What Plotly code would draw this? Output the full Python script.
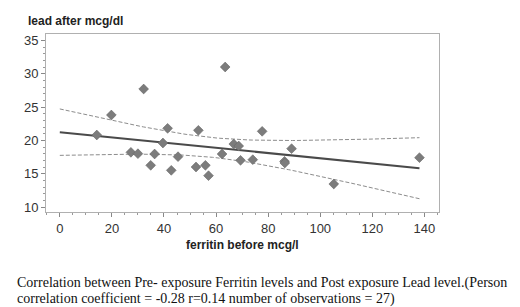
import numpy as np
import plotly.graph_objects as go

# Data
ferritin = [14.2, 19.8, 32.2, 27.3, 30.0, 34.9, 36.4, 39.6, 41.4, 42.8, 45.4, 52.3, 53.2, 55.9,
            57.1, 62.3, 63.5, 66.8, 68.7, 69.4, 74.1, 77.7, 89.0, 86.3, 86.4, 105.2, 138.1]
lead = [20.8, 23.8, 27.7, 18.2, 18.0, 16.25, 17.95, 19.6, 21.8, 15.5, 17.55, 16.0, 21.5, 16.25,
        14.7, 17.95, 31.0, 19.45, 19.15, 17.0, 17.1, 21.35, 18.75, 16.85, 16.6, 13.45, 17.4]
x_ticks = [0, 20, 40, 60, 80, 100, 120, 140]
y_ticks = [10, 15, 20, 25, 30, 35]
caption_lines = [
    "Correlation between Pre- exposure Ferritin levels and Post exposure Lead level.(Person",
    "correlation coefficient = -0.28 r=0.14 number of observations = 27)",
]
T_CRIT = 2.0595  # t(0.975, df=25)

x = np.array(ferritin)
y = np.array(lead)
n = len(x)
b1, b0 = np.polyfit(x, y, 1)
resid = y - (b0 + b1 * x)
s = np.sqrt(np.sum(resid ** 2) / (n - 2))
sxx = np.sum((x - x.mean()) ** 2)
xf = np.linspace(0, x.max(), 100)
yf = b0 + b1 * xf
half = T_CRIT * s * np.sqrt(1 / n + (xf - x.mean()) ** 2 / sxx)

band_line = dict(color="#8c8c8c", width=1, dash="4px,2px")
fig = go.Figure()
fig.add_trace(go.Scatter(x=xf, y=yf + half, mode="lines", line=band_line, hoverinfo="skip"))
fig.add_trace(go.Scatter(x=xf, y=yf - half, mode="lines", line=band_line, hoverinfo="skip"))
fig.add_trace(go.Scatter(x=xf, y=yf, mode="lines",
                         line=dict(color="#4a4a4a", width=2), hoverinfo="skip"))
fig.add_trace(go.Scatter(x=ferritin, y=lead, mode="markers",
                         marker=dict(symbol="diamond", size=7.5, color="#7c7c7c",
                                     line=dict(color="#666666", width=0.6))))

axis_common = dict(showgrid=False, zeroline=False, showline=True, linecolor="#b0b0b0",
                   linewidth=1, mirror=True, ticks="outside", ticklen=4, tickcolor="#888888",
                   tickfont=dict(family="Liberation Sans, Arial", size=13, color="#333333"))
fig.update_xaxes(range=[-5.3, 145.6], tickvals=x_ticks, **axis_common,
                 minor=dict(dtick=5, ticks="outside", ticklen=2, tickcolor="#999999"))
fig.update_yaxes(range=[9.25, 35.95], tickvals=y_ticks, **axis_common,
                 minor=dict(dtick=1, ticks="outside", ticklen=2, tickcolor="#999999"))

annotations = [
    dict(text="<b>lead after mcg/dl</b>", xref="paper", yref="paper", x=0, y=1,
         xanchor="left", yanchor="middle", xshift=-20, yshift=13, showarrow=False,
         font=dict(family="Liberation Sans, Arial", size=12, color="#222222")),
    dict(text="<b>ferritin before mcg/l</b>", xref="paper", yref="paper", x=0.5, y=0,
         xanchor="center", yanchor="middle", yshift=-33, showarrow=False,
         font=dict(family="Liberation Sans, Arial", size=12, color="#222222")),
]
for i, line in enumerate(caption_lines):
    annotations.append(dict(text=line, xref="paper", yref="paper", x=0, y=0,
                            xanchor="left", yanchor="middle", xshift=-31, yshift=-71 - 15.5 * i,
                            showarrow=False,
                            font=dict(family="Liberation Serif, Times New Roman", size=14,
                                      color="#111111")))

fig.update_layout(
    width=520, height=307, showlegend=False,
    margin=dict(l=38, r=89, t=26, b=103),
    plot_bgcolor="white", paper_bgcolor="white",
    annotations=annotations,
)

fig.write_html("out.html")
